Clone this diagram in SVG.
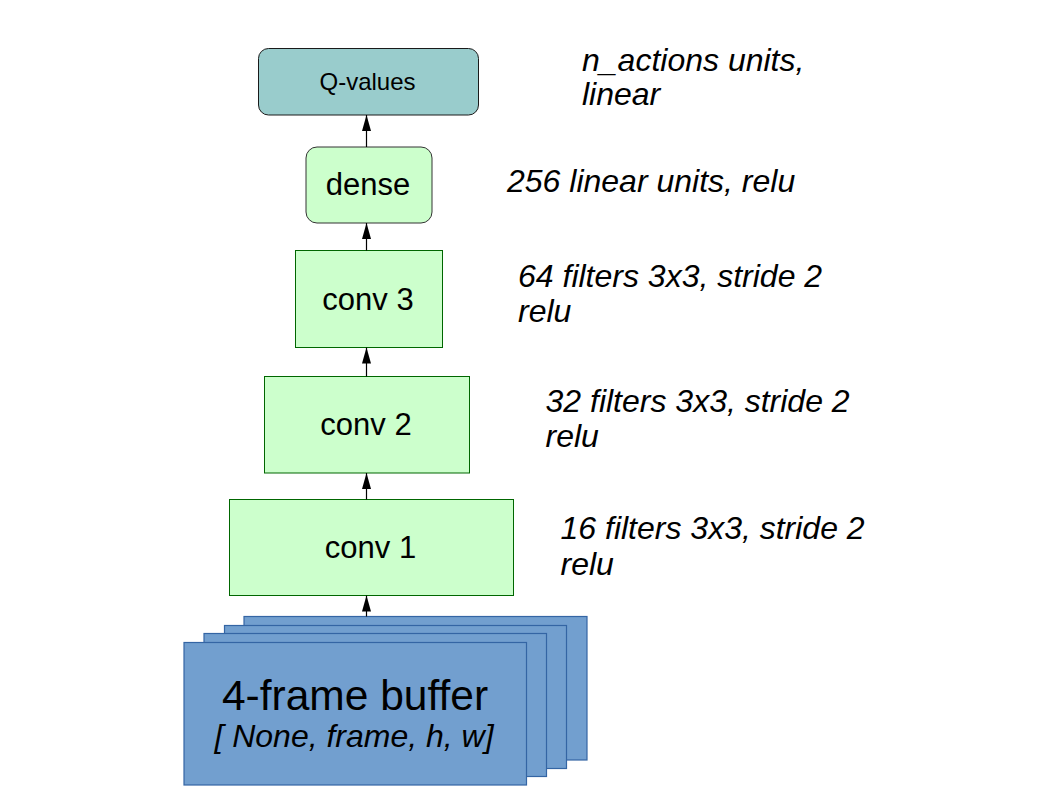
<svg xmlns="http://www.w3.org/2000/svg" width="1058" height="794" viewBox="0 0 1058 794">
  <style>
    .lbl { font-family: "Liberation Sans", Arial, sans-serif; fill: #000; }
    .note { font-family: "Liberation Sans", Arial, sans-serif; font-style: italic; font-size: 32px; fill: #000; }
    .conv { fill: #ccffcc; stroke: #006600; stroke-width: 1; }
    .frame { fill: #729fcf; stroke: #3465a4; stroke-width: 1.2; }
    .edge { stroke: #000; stroke-width: 1.2; fill: none; marker-end: url(#arrow); }
  </style>
  <defs>
    <marker id="arrow" viewBox="0 0 16 10" refX="16" refY="5" markerWidth="16" markerHeight="10" markerUnits="userSpaceOnUse" orient="auto">
      <path d="M0,0.5 L16,5 L0,9.5 Z" fill="#000"/>
    </marker>
  </defs>
  <rect width="1058" height="794" fill="#fff"/>

  <!-- stacked input frames -->
  <g id="buffer">
    <rect class="frame" x="244" y="616.5" width="343" height="143.5"/>
    <rect class="frame" x="224.5" y="625.5" width="342" height="143"/>
    <rect class="frame" x="204" y="633.5" width="342.5" height="143"/>
    <rect class="frame" x="184" y="642.5" width="342.5" height="142.5"/>
    <text class="lbl" x="355" y="709.5" font-size="42.5" text-anchor="middle">4-frame buffer</text>
    <text class="lbl" x="354" y="747" font-size="32" font-style="italic" text-anchor="middle">[ None, frame, h, w]</text>
  </g>

  <g id="conv1">
    <rect class="conv" x="229.5" y="499.5" width="284" height="96"/>
    <text class="lbl" x="370.5" y="557.5" font-size="31" text-anchor="middle">conv 1</text>
  </g>

  <g id="conv2">
    <rect class="conv" x="264.5" y="376.5" width="205" height="96.5"/>
    <text class="lbl" x="366" y="435" font-size="31" text-anchor="middle">conv 2</text>
  </g>

  <g id="conv3">
    <rect class="conv" x="295.5" y="250.5" width="147" height="97"/>
    <text class="lbl" x="368" y="309.5" font-size="31" text-anchor="middle">conv 3</text>
  </g>

  <g id="dense">
    <rect x="306" y="147" width="126" height="76" rx="11" ry="11" fill="#ccffcc" stroke="#333333" stroke-width="1"/>
    <text class="lbl" x="368" y="195" font-size="31" text-anchor="middle">dense</text>
  </g>

  <g id="qvalues">
    <rect x="258.5" y="48.5" width="220" height="66.5" rx="10" ry="10" fill="#99cccc" stroke="#1a1a1a" stroke-width="1"/>
    <text class="lbl" x="367.5" y="89.5" font-size="24" text-anchor="middle">Q-values</text>
  </g>

  <!-- data flow, bottom to top -->
  <g id="connectors">
    <line class="edge" x1="366.5" y1="616.5" x2="366.5" y2="595.5"/>
    <line class="edge" x1="366.5" y1="499.5" x2="366.5" y2="473"/>
    <line class="edge" x1="366.5" y1="376.5" x2="366.5" y2="347.5"/>
    <line class="edge" x1="366.5" y1="250.5" x2="366.5" y2="223"/>
    <line class="edge" x1="366.5" y1="147" x2="366.5" y2="115"/>
  </g>

  <!-- layer annotations -->
  <g id="notes">
    <text class="note" x="582" y="70.5">n_actions units,</text>
    <text class="note" x="582" y="105">linear</text>
    <text class="note" x="507" y="191.5">256 linear units, relu</text>
    <text class="note" x="518" y="286.5">64 filters 3x3, stride 2</text>
    <text class="note" x="518" y="321.5">relu</text>
    <text class="note" x="545.5" y="411.5">32 filters 3x3, stride 2</text>
    <text class="note" x="545.5" y="446.5">relu</text>
    <text class="note" x="560.5" y="538.5">16 filters 3x3, stride 2</text>
    <text class="note" x="560.5" y="575">relu</text>
  </g>
</svg>
